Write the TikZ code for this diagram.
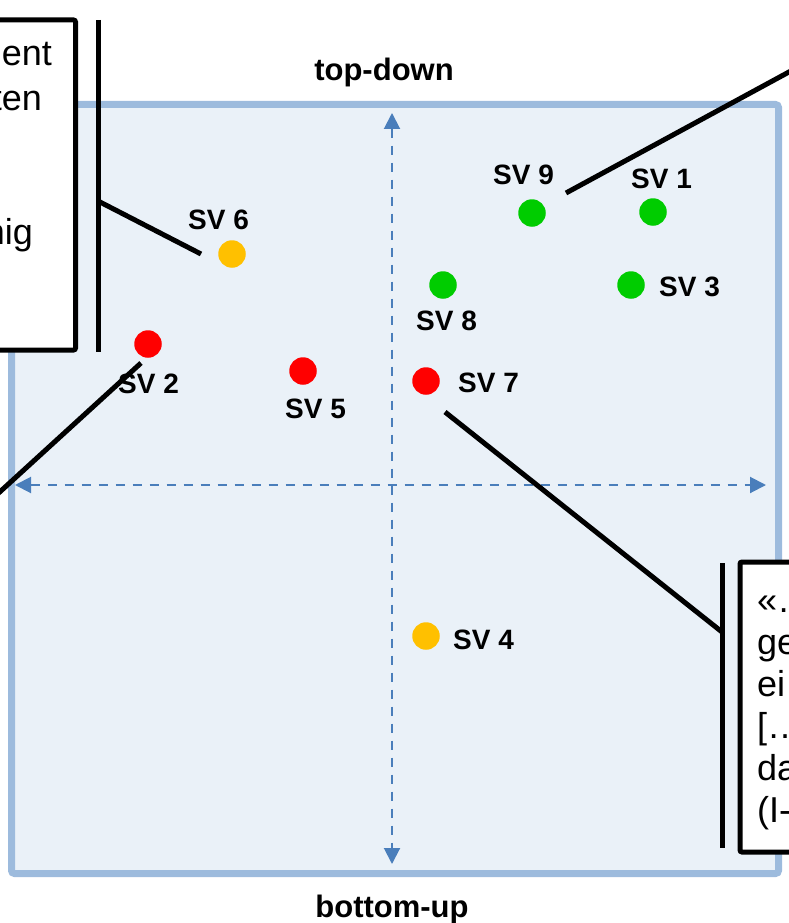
\documentclass[tikz,border=0pt]{standalone}
\usepackage{fontspec}
\setmainfont{Liberation Sans}
\usetikzlibrary{arrows.meta}
\definecolor{sqfill}{HTML}{EAF1F8}
\definecolor{sqborder}{HTML}{9DBBDD}
\definecolor{axisblue}{HTML}{4A7EBB}
\definecolor{svgreen}{HTML}{00CC00}
\definecolor{svred}{HTML}{FF0000}
\definecolor{svorange}{HTML}{FFC000}
\tikzset{
  svdot/.style={circle, inner sep=0pt, minimum size=27.5pt},
  svlabel/.style={font=\fontsize{28}{32}\selectfont\bfseries, inner sep=0pt, anchor=base west},
  axislabel/.style={font=\fontsize{31}{36}\selectfont\bfseries, inner sep=0pt, anchor=base},
  boxtext/.style={font=\fontsize{36}{42}\selectfont, inner sep=0pt},
  axisarrow/.style={axisblue, line width=2pt, dash pattern=on 9pt off 8pt,
    {Triangle[length=16pt,width=16pt]}-{Triangle[length=16pt,width=16pt]}},
  callout/.style={line width=5pt, black},
  quotebox/.style={line width=5pt, black, fill=white, rounded corners=2pt},
}
\begin{document}
\begin{tikzpicture}[x=1pt,y=-1pt]
\useasboundingbox (0,0) rectangle (789,923);
\clip (0,0) rectangle (789,923);
% square
\draw[sqborder, fill=sqfill, line width=7pt, rounded corners=3pt] (11.5,104.5) rectangle (778.5,873.5);
% axes
\coordinate (axT) at (392,113);
\coordinate (axB) at (392,864);
\coordinate (axL) at (15,485);
\coordinate (axR) at (766,485);
\draw[axisarrow] (axT) -- (axB);
\draw[axisarrow] (axL) -- (axR);
\node[axislabel] (td) at (384,81) {top-down};
\node[axislabel] (bu) at (392,917) {bottom-up};
% dots
\node[svdot, fill=svgreen] (d9) at (532,213) {};
\node[svdot, fill=svgreen] (d1) at (653,212) {};
\node[svdot, fill=svorange] (d6) at (232,254) {};
\node[svdot, fill=svgreen] (d8) at (443,285) {};
\node[svdot, fill=svgreen] (d3) at (631,285) {};
\node[svdot, fill=svred] (d2) at (148,344) {};
\node[svdot, fill=svred] (d5) at (303,371) {};
\node[svdot, fill=svred] (d7) at (426,381) {};
\node[svdot, fill=svorange] (d4) at (426,636) {};
% labels
\node[svlabel] (l9) at (493,184) {SV 9};
\node[svlabel] (l1) at (631,188) {SV 1};
\node[svlabel] (l6) at (188,229) {SV 6};
\node[svlabel] (l8) at (416,330) {SV 8};
\node[svlabel] (l3) at (659,296) {SV 3};
\node[svlabel] (l2) at (118,393) {SV 2};
\node[svlabel] (l5) at (285,418) {SV 5};
\node[svlabel] (l7) at (458,392) {SV 7};
\node[svlabel] (l4) at (453,649) {SV 4};
% left quote box
\draw[quotebox] (-20,20) rectangle (75.5,350);
\node[boxtext, anchor=base east] (qa1) at (52,66) {ent};
\node[boxtext, anchor=base east] (qa2) at (42,110.5) {ten};
\node[boxtext, anchor=base east] (qa5) at (33,244) {nig};
% right quote box
\draw[quotebox] (740,562) rectangle (830,852);
\node[boxtext, anchor=base west] (qb1) at (757,612) {«…};
\node[boxtext, anchor=base west] (qb2) at (757,654) {ge};
\node[boxtext, anchor=base west] (qb3) at (757,696) {ei};
\node[boxtext, anchor=base west] (qb4) at (757,738) {[…};
\node[boxtext, anchor=base west] (qb5) at (757,780) {da};
\node[boxtext, anchor=base west] (qb6) at (757,822) {(I-};
% bars
\coordinate (barLt) at (98,20);
\coordinate (barLb) at (98,352);
\coordinate (barRt) at (722,563);
\coordinate (barRb) at (722,848);
\draw[callout] (barLt) -- (barLb);
\draw[callout] (barRt) -- (barRb);
% connectors
\coordinate (c6a) at (98,201);
\coordinate (c6b) at (201,254);
\coordinate (c9a) at (566,193);
\coordinate (c9b) at (800,66);
\coordinate (c2a) at (141,363);
\coordinate (c2b) at (-20,510);
\coordinate (c7a) at (445,412);
\coordinate (c7b) at (722,632);
\draw[callout] (c6a) -- (c6b);
\draw[callout] (c9a) -- (c9b);
\draw[callout] (c2a) -- (c2b);
\draw[callout] (c7a) -- (c7b);
\end{tikzpicture}
\end{document}
